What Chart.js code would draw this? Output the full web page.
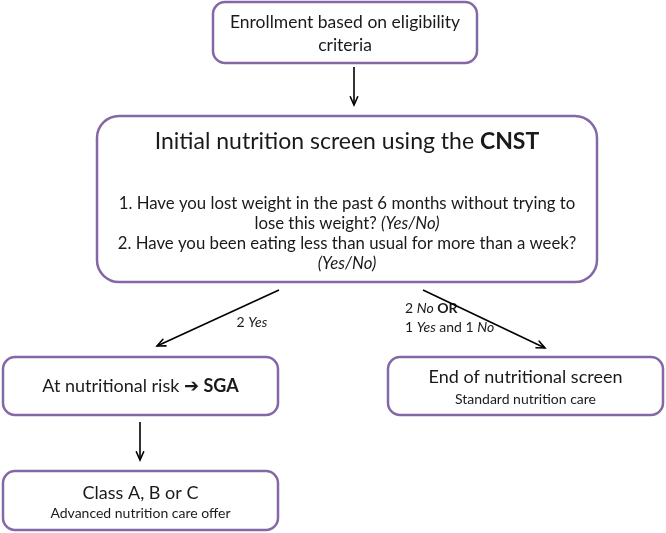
<!DOCTYPE html>
<html><head><meta charset="utf-8">
<script src="https://cdn.jsdelivr.net/npm/chart.js@4"></script>
<style>html,body{margin:0;padding:0;background:#fff}canvas{display:block}</style>
</head><body>
<canvas id="c" width="666" height="533"></canvas>
<script>
// ---- flowchart content (data) ----
const nodeNames = ["enroll", "cnst", "risk", "end", "class"];
const nodeLeft   = [213, 97, 3, 388, 3];
const nodeRight  = [477, 597, 278, 663, 278];
const nodeTop    = [2, 116, 357, 357, 471];
const nodeBottom = [63, 282, 415, 415, 530];

// text lines: [segments], segment = [text, style]
const enrollLines = [[["Enrollment based on eligibility", "n"]], [["criteria", "n"]]];
const cnstTitle = [["Initial nutrition screen using the ", "n"], ["CNST", "b"]];
const cnstQuestions = [
  [["1. Have you lost weight in the past 6 months without trying to", "n"]],
  [["lose this weight? ", "n"], ["(Yes/No)", "i"]],
  [["2. Have you been eating less than usual for more than a week?", "n"]],
  [["(Yes/No)", "i"]]
];
const riskLine = [["At nutritional risk ", "n"], ["\u2794 SGA", "b"]];
const endLines = [[["End of nutritional screen", "n"]], [["Standard nutrition care", "n"]]];
const classLines = [[["Class A, B or C", "n"]], [["Advanced nutrition care offer", "n"]]];
const yesLabel = [["2 ", "n"], ["Yes", "i"]];
const noLabel1 = [["2 ", "n"], ["No", "i"], [" ", "n"], ["OR", "b"]];
const noLabel2 = [["1 ", "n"], ["Yes", "i"], [" and 1 ", "n"], ["No", "i"]];

// arrows: from -> to
const arrowFromX = [354, 279, 423, 140];
const arrowFromY = [67, 290, 290, 422];
const arrowToX   = [354, 157, 545, 140];
const arrowToY   = [105, 346, 348, 460];

// ---- drawing ----
const FONT = "Lato, 'DejaVu Sans', sans-serif";
const PURPLE = "#8468a6";
const TEXT = "#1a1a1a";

function fontFor(style, size) {
  if (style === "b") return "bold " + size + "px " + FONT;
  if (style === "i") return "italic " + size + "px " + FONT;
  return size + "px " + FONT;
}
function drawSegs(ctx, segs, x, y, size, align) {
  let total = 0;
  segs.forEach(s => { ctx.font = fontFor(s[1], size); total += ctx.measureText(s[0]).width; });
  let cx = align === "left" ? x : x - total / 2;
  ctx.textBaseline = "middle";
  ctx.textAlign = "left";
  ctx.fillStyle = TEXT;
  segs.forEach(s => { ctx.font = fontFor(s[1], size); ctx.fillText(s[0], cx, y); cx += ctx.measureText(s[0]).width; });
}
function roundRect(ctx, x1, y1, x2, y2, r) {
  ctx.beginPath();
  ctx.moveTo(x1 + r, y1);
  ctx.lineTo(x2 - r, y1);
  ctx.arcTo(x2, y1, x2, y1 + r, r);
  ctx.lineTo(x2, y2 - r);
  ctx.arcTo(x2, y2, x2 - r, y2, r);
  ctx.lineTo(x1 + r, y2);
  ctx.arcTo(x1, y2, x1, y2 - r, r);
  ctx.lineTo(x1, y1 + r);
  ctx.arcTo(x1, y1, x1 + r, y1, r);
  ctx.closePath();
}

const flowPlugin = {
  id: "flow",
  beforeDatasetsDraw(chart) {
    const ctx = chart.ctx, xs = chart.scales.x, ys = chart.scales.y;
    const X = v => xs.getPixelForValue(v), Y = v => ys.getPixelForValue(v);
    ctx.save();
    ctx.fillStyle = "#fff";
    ctx.fillRect(0, 0, chart.width, chart.height);
    nodeNames.forEach((n, i) => {
      const r = n === "cnst" ? 22 : 12;
      roundRect(ctx, X(nodeLeft[i]), Y(nodeTop[i]), X(nodeRight[i]), Y(nodeBottom[i]), r);
      ctx.fillStyle = "#fff"; ctx.fill();
      ctx.lineWidth = 2.5; ctx.strokeStyle = PURPLE; ctx.stroke();
    });
    const cx = i => X((nodeLeft[i] + nodeRight[i]) / 2);
    drawSegs(ctx, enrollLines[0], cx(0), Y(22), 17.5);
    drawSegs(ctx, enrollLines[1], cx(0), Y(45), 17.5);
    drawSegs(ctx, cnstTitle, cx(1), Y(142), 23);
    [204, 224, 244, 264].forEach((y, k) => drawSegs(ctx, cnstQuestions[k], cx(1), Y(y), 16.8));
    drawSegs(ctx, riskLine, cx(2), Y(386), 18);
    drawSegs(ctx, endLines[0], cx(3), Y(377), 18);
    drawSegs(ctx, endLines[1], cx(3), Y(399), 14);
    drawSegs(ctx, classLines[0], cx(4), Y(493), 18);
    drawSegs(ctx, classLines[1], cx(4), Y(513), 14);
    drawSegs(ctx, yesLabel, X(252), Y(322), 14);
    drawSegs(ctx, noLabel1, X(405), Y(308), 14, "left");
    drawSegs(ctx, noLabel2, X(405), Y(327), 14, "left");
    ctx.restore();
  },
  afterDatasetsDraw(chart) {
    const ctx = chart.ctx;
    ctx.save();
    ctx.strokeStyle = "#000"; ctx.lineWidth = 1.6; ctx.lineCap = "round";
    chart.data.datasets.forEach((ds, i) => {
      const pts = chart.getDatasetMeta(i).data;
      const a = pts[0], b = pts[pts.length - 1];
      const ang = Math.atan2(b.y - a.y, b.x - a.x), L = 9, w = 0.42;
      ctx.beginPath();
      ctx.moveTo(b.x - L * Math.cos(ang - w), b.y - L * Math.sin(ang - w));
      ctx.lineTo(b.x, b.y);
      ctx.lineTo(b.x - L * Math.cos(ang + w), b.y - L * Math.sin(ang + w));
      ctx.stroke();
    });
    ctx.restore();
  }
};

const datasets = arrowFromX.map((_, i) => ({
  data: [{ x: arrowFromX[i], y: arrowFromY[i] }, { x: arrowToX[i], y: arrowToY[i] }],
  showLine: true, borderColor: "#000", borderWidth: 1.6, pointRadius: 0, fill: false
}));

new Chart(document.getElementById("c"), {
  type: "scatter",
  data: { datasets },
  options: {
    responsive: false, animation: false, devicePixelRatio: 1,
    layout: { padding: 0 },
    plugins: { legend: { display: false }, tooltip: { enabled: false } },
    scales: {
      x: { type: "linear", min: 0, max: 666, display: false },
      y: { type: "linear", min: 0, max: 533, reverse: true, display: false }
    }
  },
  plugins: [flowPlugin]
});
</script>
</body></html>
